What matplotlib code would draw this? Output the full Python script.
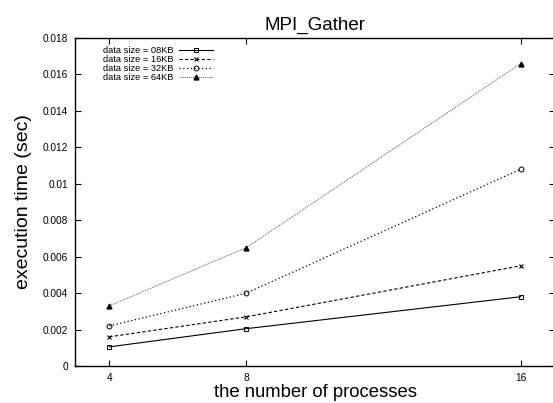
import matplotlib
matplotlib.use('Agg')
import matplotlib.pyplot as plt
from matplotlib.ticker import FixedLocator, FuncFormatter

plt.rcParams['font.family'] = ['Liberation Sans', 'DejaVu Sans']

# number of processes
procs = [4, 8, 16]

# execution time (sec) per data size
t_08kb = [0.00105, 0.00205, 0.0038]
t_16kb = [0.0016, 0.0027, 0.0055]
t_32kb = [0.0022, 0.0040, 0.0108]
t_64kb = [0.0033, 0.0065, 0.0166]

labels = ['data size = 08KB', 'data size = 16KB', 'data size = 32KB', 'data size = 64KB']

fig = plt.figure(figsize=(5.53, 4.03), dpi=100)
# right border sits just past the image edge, like the original crop
ax = fig.add_axes([75 / 553, 37 / 403, 480 / 553, 328 / 403])

ax.plot(procs, t_08kb, color='black', linestyle='-', linewidth=0.8,
        marker='s', markersize=3.5, markerfacecolor='none', markeredgewidth=0.7, label=labels[0])
ax.plot(procs, t_16kb, color='black', linestyle=(0, (3, 2)), linewidth=0.8,
        marker='x', markersize=3.5, markeredgewidth=0.8, label=labels[1])
ax.plot(procs, t_32kb, color='black', linestyle=(0, (1, 2)), linewidth=0.9,
        marker='o', markersize=3.5, markerfacecolor='none', markeredgewidth=0.7, label=labels[2])
ax.plot(procs, t_64kb, color='#555555', linestyle=(0, (1, 1)), linewidth=0.7,
        marker='^', markersize=3.5, markerfacecolor='black', markeredgecolor='black', label=labels[3])

ax.set_xlim(3, 17)
ax.set_ylim(0, 0.018)
ax.xaxis.set_major_locator(FixedLocator(procs))
ax.yaxis.set_major_locator(FixedLocator([i * 0.002 for i in range(10)]))
ax.yaxis.set_major_formatter(FuncFormatter(lambda v, p: '%g' % round(v, 4)))
ax.tick_params(direction='in', length=4, width=0.8, labelsize=7.3,
               top=True, right=True, pad=5)

for s in ax.spines.values():
    s.set_linewidth(1.0)

ax.set_title('MPI_Gather', fontsize=13.5, pad=6)
ax.set_xlabel('the number of processes', fontsize=13.3, labelpad=1)
ax.set_ylabel('execution time (sec)', fontsize=14, labelpad=8)

ax.legend(loc='upper left', bbox_to_anchor=(0.045, 0.995), frameon=False,
          fontsize=6.7, markerfirst=False, handlelength=3.6, handletextpad=0.6,
          labelspacing=0.0, borderaxespad=0.3)

fig.savefig('out.png', dpi=100)
